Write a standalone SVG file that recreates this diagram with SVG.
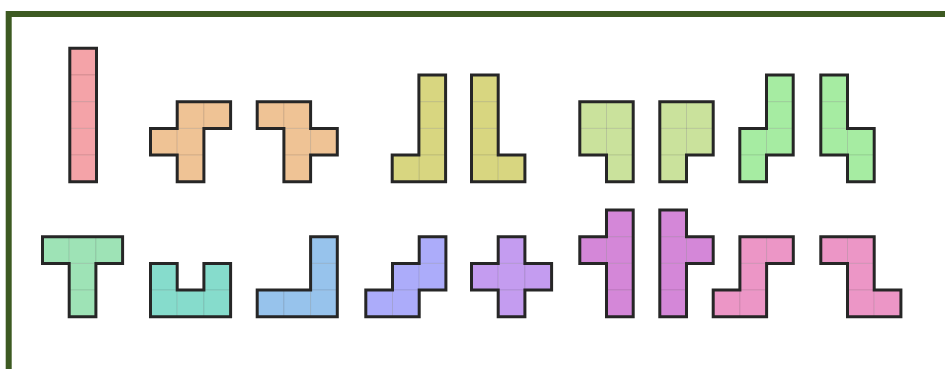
<svg xmlns="http://www.w3.org/2000/svg" width="945" height="369" viewBox="0 0 945 369">
<style>
.c rect{stroke:#000;stroke-opacity:0.1;stroke-width:1;width:26.7px;height:26.7px}
.o{fill:none;stroke:#262626;stroke-width:3;stroke-linejoin:miter}
.i rect{fill:#f4a3a8}.f rect{fill:#efc395}.l rect{fill:#d8d680}.p rect{fill:#cae29c}
.n rect{fill:#a6eca2}.t rect{fill:#9ee3b6}.u rect{fill:#86dccc}.v rect{fill:#97c3ec}
.w rect{fill:#acacfa}.x rect{fill:#c49cf0}.y rect{fill:#d487d8}.z rect{fill:#ec96c6}
</style>
<rect width="945" height="369" fill="#fff"/>
<path d="M945 14 H8.7 V369" fill="none" stroke="#3d5a22" stroke-width="6"/>
<g id="pieceI" transform="translate(69.8,48.3)">
<g class="c i"><rect x="0" y="0"/><rect x="0" y="26.7"/><rect x="0" y="53.4"/><rect x="0" y="80.1"/><rect x="0" y="106.8"/></g>
<path class="o" d="M0 0H26.7V133.5H0Z"/></g>
<g id="pieceF1" transform="translate(150.5,101.7)">
<g class="c f"><rect x="26.7" y="0"/><rect x="53.4" y="0"/><rect x="0" y="26.7"/><rect x="26.7" y="26.7"/><rect x="26.7" y="53.4"/></g>
<path class="o" d="M26.7 0H80.1V26.7H53.4V80.1H26.7V53.4H0V26.7H26.7Z"/></g>
<g id="pieceF2" transform="translate(257.2,101.7)">
<g class="c f"><rect x="0" y="0"/><rect x="26.7" y="0"/><rect x="26.7" y="26.7"/><rect x="53.4" y="26.7"/><rect x="26.7" y="53.4"/></g>
<path class="o" d="M0 0H53.4V26.7H80.1V53.4H53.4V80.1H26.7V26.7H0Z"/></g>
<g id="pieceL1" transform="translate(392.2,75)">
<g class="c l"><rect x="26.7" y="0"/><rect x="26.7" y="26.7"/><rect x="26.7" y="53.4"/><rect x="26.7" y="80.1"/><rect x="0" y="80.1"/></g>
<path class="o" d="M26.7 0H53.4V106.8H0V80.1H26.7Z"/></g>
<g id="pieceL2" transform="translate(471.5,75)">
<g class="c l"><rect x="0" y="0"/><rect x="0" y="26.7"/><rect x="0" y="53.4"/><rect x="0" y="80.1"/><rect x="26.7" y="80.1"/></g>
<path class="o" d="M0 0H26.7V80.1H53.4V106.8H0Z"/></g>
<g id="pieceP1" transform="translate(579.8,101.7)">
<g class="c p"><rect x="0" y="0"/><rect x="26.7" y="0"/><rect x="0" y="26.7"/><rect x="26.7" y="26.7"/><rect x="26.7" y="53.4"/></g>
<path class="o" d="M0 0H53.4V80.1H26.7V53.4H0Z"/></g>
<g id="pieceP2" transform="translate(659.8,101.7)">
<g class="c p"><rect x="0" y="0"/><rect x="26.7" y="0"/><rect x="0" y="26.7"/><rect x="26.7" y="26.7"/><rect x="0" y="53.4"/></g>
<path class="o" d="M0 0H53.4V53.4H26.7V80.1H0Z"/></g>
<g id="pieceN1" transform="translate(739.8,75)">
<g class="c n"><rect x="26.7" y="0"/><rect x="26.7" y="26.7"/><rect x="26.7" y="53.4"/><rect x="0" y="53.4"/><rect x="0" y="80.1"/></g>
<path class="o" d="M26.7 0H53.4V80.1H26.7V106.8H0V53.4H26.7Z"/></g>
<g id="pieceN2" transform="translate(820.8,75)">
<g class="c n"><rect x="0" y="0"/><rect x="0" y="26.7"/><rect x="0" y="53.4"/><rect x="26.7" y="53.4"/><rect x="26.7" y="80.1"/></g>
<path class="o" d="M0 0H26.7V53.4H53.4V106.8H26.7V80.1H0Z"/></g>
<g id="pieceT" transform="translate(42.5,236.7)">
<g class="c t"><rect x="0" y="0"/><rect x="26.7" y="0"/><rect x="53.4" y="0"/><rect x="26.7" y="26.7"/><rect x="26.7" y="53.4"/></g>
<path class="o" d="M0 0H80.1V26.7H53.4V80.1H26.7V26.7H0Z"/></g>
<g id="pieceU" transform="translate(150.5,263.4)">
<g class="c u"><rect x="0" y="0"/><rect x="53.4" y="0"/><rect x="0" y="26.7"/><rect x="26.7" y="26.7"/><rect x="53.4" y="26.7"/></g>
<path class="o" d="M0 0H26.7V26.7H53.4V0H80.1V53.4H0Z"/></g>
<g id="pieceV" transform="translate(257.2,236.7)">
<g class="c v"><rect x="53.4" y="0"/><rect x="53.4" y="26.7"/><rect x="0" y="53.4"/><rect x="26.7" y="53.4"/><rect x="53.4" y="53.4"/></g>
<path class="o" d="M53.4 0H80.1V80.1H0V53.4H53.4Z"/></g>
<g id="pieceW" transform="translate(365.8,236.7)">
<g class="c w"><rect x="53.4" y="0"/><rect x="26.7" y="26.7"/><rect x="53.4" y="26.7"/><rect x="0" y="53.4"/><rect x="26.7" y="53.4"/></g>
<path class="o" d="M53.4 0H80.1V53.4H53.4V80.1H0V53.4H26.7V26.7H53.4Z"/></g>
<g id="pieceX" transform="translate(471.5,236.7)">
<g class="c x"><rect x="26.7" y="0"/><rect x="0" y="26.7"/><rect x="26.7" y="26.7"/><rect x="53.4" y="26.7"/><rect x="26.7" y="53.4"/></g>
<path class="o" d="M26.7 0H53.4V26.7H80.1V53.4H53.4V80.1H26.7V53.4H0V26.7H26.7Z"/></g>
<g id="pieceY1" transform="translate(579.8,210)">
<g class="c y"><rect x="26.7" y="0"/><rect x="26.7" y="26.7"/><rect x="26.7" y="53.4"/><rect x="26.7" y="80.1"/><rect x="0" y="26.7"/></g>
<path class="o" d="M26.7 0H53.4V106.8H26.7V53.4H0V26.7H26.7Z"/></g>
<g id="pieceY2" transform="translate(659.8,210)">
<g class="c y"><rect x="0" y="0"/><rect x="0" y="26.7"/><rect x="0" y="53.4"/><rect x="0" y="80.1"/><rect x="26.7" y="26.7"/></g>
<path class="o" d="M0 0H26.7V26.7H53.4V53.4H26.7V106.8H0Z"/></g>
<g id="pieceZ1" transform="translate(713.2,236.7)">
<g class="c z"><rect x="26.7" y="0"/><rect x="53.4" y="0"/><rect x="26.7" y="26.7"/><rect x="0" y="53.4"/><rect x="26.7" y="53.4"/></g>
<path class="o" d="M26.7 0H80.1V26.7H53.4V80.1H0V53.4H26.7Z"/></g>
<g id="pieceZ2" transform="translate(820.8,236.7)">
<g class="c z"><rect x="0" y="0"/><rect x="26.7" y="0"/><rect x="26.7" y="26.7"/><rect x="26.7" y="53.4"/><rect x="53.4" y="53.4"/></g>
<path class="o" d="M0 0H53.4V53.4H80.1V80.1H26.7V26.7H0Z"/></g>
<g id="connectors"/>
</svg>
